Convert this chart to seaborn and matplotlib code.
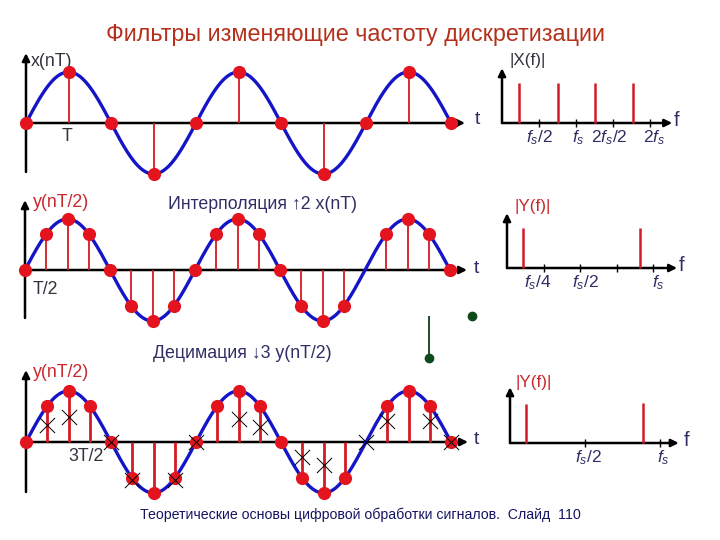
import numpy as np
import matplotlib
matplotlib.use("Agg")
import matplotlib.pyplot as plt
import seaborn as sns

# =========================
# Data
# =========================
# time panels: t in units of T
x_t = [0, 1, 2, 3, 4, 5, 6, 7, 8, 9, 10]
x_vals = [0, 1, 0, -1, 0, 1, 0, -1, 0, 1, 0]

y_t = [0, 0.5, 1, 1.5, 2, 2.5, 3, 3.5, 4, 4.5, 5, 5.5, 6, 6.5, 7, 7.5, 8, 8.5, 9, 9.5, 10]
y_vals = [0, 0.71, 1, 0.71, 0, -0.71, -1, -0.71, 0, 0.71, 1, 0.71,
          0, -0.71, -1, -0.71, 0, 0.71, 1, 0.71, 0]
y_missing_dot = [8]          # no dot drawn at t = 8 on the slide

signal_period = 4            # in T
signal_amp = 1.0

# decimation crosses (discarded samples)
cross_t = [0.5, 1, 2, 2.5, 3.5, 4, 5, 5.5, 6.5, 7, 8, 8.5, 9.5, 10]
cross_v = [0.33, 0.49, 0, -0.75, -0.75, 0, 0.46, 0.29, -0.29, -0.46, 0, 0.42, 0.42, 0]

# spectra
X_f = [0.45, 1.5, 2.5, 3.55]          # units of fs/2
X_mag = [1, 1, 1, 1]
X_ticks = [1, 2, 3, 4]
X_labels = ["$f_s/2$", "$f_s$", "$2f_s/2$", "$2f_s$"]
X_label_x = [1.0, 2.05, 2.9, 4.1]

Y1_f = [0.44, 3.64]                   # units of fs/4
Y1_mag = [1, 1]
Y1_ticks = [1, 2, 3, 4]
Y1_labels = ["$f_s/4$", "$f_s/2$", "$f_s$"]
Y1_label_x = [0.85, 2.14, 4.14]

Y2_f = [0.21, 1.77]                   # units of fs/2
Y2_mag = [1, 1.03]
Y2_ticks = [1, 2]
Y2_labels = ["$f_s/2$", "$f_s$"]
Y2_label_x = [1.04, 2.04]

# stray green stem on the slide
green_stem_t = [9.48]
green_stem_top = [2.47]
green_stem_bot = [1.65]
green_dot_t = [10.49]
green_dot_v = [2.47]

# =========================
# Style
# =========================
sns.set_theme(style="white")
plt.rcParams["font.family"] = ["Liberation Sans", "DejaVu Sans"]
plt.rcParams["mathtext.fontset"] = "custom"
plt.rcParams["mathtext.it"] = "Liberation Sans:italic"
plt.rcParams["mathtext.rm"] = "Liberation Sans"

W, H = 720, 540
RED = "#e3141e"
STEM = "#d41a24"
BLUE = "#1414c8"
NAVY = "#2e2e64"
DARK = "#34343f"
LRED = "#c8282c"
LBL = 12.8

fig = plt.figure(figsize=(7.2, 5.4), dpi=100)


def panel(left, top, right, bottom, ox, oy, sx, sy):
    # axes placed in pixel box, data origin at (ox, oy) px, sx/sy px per unit
    ax = fig.add_axes([left / W, 1 - bottom / H, (right - left) / W, (bottom - top) / H])
    ax.set_xlim((left - ox) / sx, (right - ox) / sx)
    ax.set_ylim((oy - bottom) / sy, (oy - top) / sy)
    ax.axis("off")
    return ax


def arrow(ax, x0, y0, x1, y1):
    ax.annotate("", xy=(x1, y1), xytext=(x0, y0),
                arrowprops=dict(arrowstyle="-|>", lw=1.8, color="black",
                                mutation_scale=11, shrinkA=0, shrinkB=0))


def time_panel(ax, t, v, x_tip, y_lo, y_hi, stem_lw, dot_t, dot_v):
    arrow(ax, 0, y_lo, 0, y_hi)
    arrow(ax, 0, 0, x_tip, 0)
    ax.vlines(t, 0, v, color=STEM, lw=stem_lw, zorder=3)
    tc = np.linspace(0, 10, 400)
    sns.lineplot(x=tc, y=signal_amp * np.sin(2 * np.pi * tc / signal_period),
                 ax=ax, color=BLUE, lw=2.4, sort=False, zorder=4)
    sns.scatterplot(x=dot_t, y=dot_v, ax=ax, color=RED, s=90, linewidth=0, zorder=5)
    ax.set_xlabel("")
    ax.set_ylabel("")
    ax.axis("off")


def freq_panel(ax, f, mag, ticks, labels, label_x, x_tip, y_tip, f_x):
    arrow(ax, 0, 0, 0, y_tip)
    arrow(ax, 0, 0, x_tip, 0)
    ax.vlines(f, 0, mag, color=STEM, lw=1.8, zorder=3)
    ax.vlines(ticks, -0.1, 0.1, color="black", lw=1.0)
    for lx, lb in zip(label_x, labels):
        ax.text(lx, -0.37, lb, ha="center", va="center", fontsize=12.5, color=NAVY)
    ax.text(f_x, 0.07, "f", ha="center", va="center", fontsize=14.5, color=NAVY)


# ---- title / footer
fig.text(356 / W, 1 - 35 / H, "Фильтры изменяющие частоту дискретизации",
         ha="center", va="center", fontsize=16.8, color="#b4301a")
fig.text(360 / W, 1 - 515 / H,
         "Теоретические основы цифровой обработки сигналов.  Слайд  110",
         ha="center", va="center", fontsize=10.2, color="#141464")

# ---- panel 1: x(nT)
ax1 = panel(0, 40, 500, 185, 26, 123, 42.5, 51)
time_panel(ax1, x_t, x_vals, 10.33, -0.96, 1.37, 1.3, x_t, x_vals)
ax1.text(0.12, 1.2, "x(nT)", ha="left", va="center", fontsize=LBL, color=DARK)
ax1.text(0.96, -0.27, "T", ha="center", va="center", fontsize=LBL, color=DARK)
ax1.text(10.62, 0.06, "t", ha="center", va="center", fontsize=14, color=NAVY)

# ---- panel 2: interpolation
dot_t2 = [t for t in y_t if t not in y_missing_dot]
dot_v2 = [v for t, v in zip(y_t, y_vals) if t not in y_missing_dot]
ax2 = panel(0, 185, 500, 335, 25, 270, 42.5, 51)
time_panel(ax2, y_t, y_vals, 10.4, -0.94, 1.37, 1.3, dot_t2, dot_v2)
ax2.text(0.19, 1.33, "y(nT/2)", ha="left", va="center", fontsize=LBL, color=LRED)
ax2.text(3.36, 1.29, "Интерполяция \u21912 x(nT)", ha="left", va="center",
         fontsize=LBL, color=NAVY)
ax2.text(0.19, -0.39, "T/2", ha="left", va="center", fontsize=LBL, color=DARK)
ax2.text(10.62, 0.02, "t", ha="center", va="center", fontsize=14, color=NAVY)

# ---- panel 3: decimation
ax3 = panel(0, 300, 500, 505, 26, 442, 42.5, 51)
time_panel(ax3, y_t, y_vals, 10.4, -0.98, 1.41, 2.0, dot_t2, dot_v2)
sns.scatterplot(x=cross_t, y=cross_v, ax=ax3, marker="x", color="black",
                s=120, linewidth=0.7, zorder=6)
ax3.axis("off")
ax3.text(2.99, 1.73, "Децимация \u21933 y(nT/2)", ha="left", va="center",
         fontsize=LBL, color=NAVY)
ax3.text(0.16, 1.37, "y(nT/2)", ha="left", va="center", fontsize=LBL, color=LRED)
ax3.text(1.42, -0.29, "3T/2", ha="center", va="center", fontsize=LBL, color=DARK)
ax3.text(10.6, 0.04, "t", ha="center", va="center", fontsize=14, color=NAVY)
ax3.vlines(green_stem_t, green_stem_bot, green_stem_top, color="#123a1a", lw=1.3)
ax3.plot(green_stem_t, green_stem_bot, "o", color="#0f4a1c", ms=6)
ax3.plot(green_dot_t, green_dot_v, "o", color="#0f4a1c", ms=6)

# ---- spectrum |X(f)|
af1 = panel(495, 45, 715, 150, 502, 123, 37, 40)
freq_panel(af1, X_f, X_mag, X_ticks, X_labels, X_label_x, 4.6, 1.37, 4.73)
af1.text(0.7, 1.57, "|X(f)|", ha="center", va="center", fontsize=12.3, color=DARK)

# ---- spectrum |Y(f)| after interpolation
af2 = panel(495, 190, 715, 300, 507, 268, 36.5, 40)
freq_panel(af2, Y1_f, Y1_mag, Y1_ticks, Y1_labels, Y1_label_x, 4.66, 1.37, 4.79)
af2.text(0.71, 1.55, "|Y(f)|", ha="center", va="center", fontsize=12.3, color=LRED)

# ---- spectrum |Y(f)| after decimation
af3 = panel(495, 365, 715, 475, 510, 443, 75, 39)
freq_panel(af3, Y2_f, Y2_mag, Y2_ticks, Y2_labels, Y2_label_x, 2.25, 1.43, 2.35)
af3.text(0.31, 1.56, "|Y(f)|", ha="center", va="center", fontsize=12.3, color=LRED)

fig.savefig("out.png", dpi=100)
